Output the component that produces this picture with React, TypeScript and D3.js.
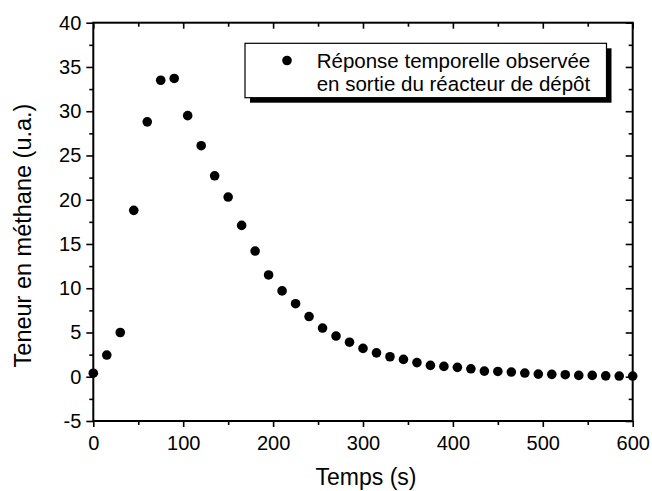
import React, { useEffect, useRef } from "react";
import * as d3 from "d3";

const times: number[] = [
  0, 15, 30, 45, 60, 75, 90, 105, 120, 135, 150, 165, 180, 195, 210, 225, 240,
  255, 270, 285, 300, 315, 330, 345, 360, 375, 390, 405, 420, 435, 450, 465,
  480, 495, 510, 525, 540, 555, 570, 585, 600,
];
const methane: number[] = [
  0.4, 2.45, 5.0, 18.8, 28.8, 33.5, 33.7, 29.5, 26.1, 22.7, 20.3, 17.1, 14.2,
  11.5, 9.7, 8.25, 6.8, 5.5, 4.6, 3.9, 3.2, 2.7, 2.26, 1.96, 1.6, 1.28, 1.17,
  1.06, 0.9, 0.64, 0.6, 0.53, 0.42, 0.3, 0.27, 0.23, 0.15, 0.15, 0.1, 0.08,
  0.08,
];
const xTicks: number[] = [0, 100, 200, 300, 400, 500, 600];
const xMinorTicks: number[] = [50, 150, 250, 350, 450, 550];
const yTicks: number[] = [-5, 0, 5, 10, 15, 20, 25, 30, 35, 40];
const yMinorTicks: number[] = [-2.5, 2.5, 7.5, 12.5, 17.5, 22.5, 27.5, 32.5, 37.5];
const xLabel = "Temps (s)";
const yLabel = "Teneur en méthane (u.a.)";
const legendLines: string[] = [
  "Réponse temporelle observée",
  "en sortie du réacteur de dépôt",
];

const W = 652;
const H = 491;
const FONT = "'Liberation Sans', Arial, Helvetica, sans-serif";
const fmt = (d: any) => String(d);

export default function App() {
  const ref = useRef<SVGSVGElement | null>(null);

  useEffect(() => {
    const svg = d3.select(ref.current);
    svg.selectAll("*").remove();

    const x = d3.scaleLinear().domain([0, 600]).range([93.3, 632.7]);
    const y = d3.scaleLinear().domain([-5, 40]).range([421, 22.7]);
    const [x0, x1] = x.range();
    const [y0, y1] = y.range();

    svg.append("rect").attr("width", W).attr("height", H).attr("fill", "#fff");

    const styleAxis = (g: any) => {
      g.select(".domain").remove();
      g.selectAll(".tick line").attr("stroke", "#000").attr("stroke-width", 1.6);
      g.selectAll(".tick text")
        .attr("fill", "#000")
        .style("font-family", FONT)
        .style("font-size", "20px");
    };

    // Bottom axis
    const gB = svg.append("g").attr("transform", `translate(0,${y0})`);
    gB.call(d3.axisBottom(x).tickValues(xTicks).tickSize(6).tickPadding(9).tickFormat(fmt));
    styleAxis(gB);
    const gBm = svg.append("g").attr("transform", `translate(0,${y0})`);
    gBm.call(d3.axisBottom(x).tickValues(xMinorTicks).tickSize(4).tickFormat(() => ""));
    styleAxis(gBm);

    // Top axis (ticks inward)
    const gT = svg.append("g").attr("transform", `translate(0,${y1})`);
    gT.call(d3.axisTop(x).tickValues(xTicks).tickSize(-6).tickFormat(() => ""));
    styleAxis(gT);
    const gTm = svg.append("g").attr("transform", `translate(0,${y1})`);
    gTm.call(d3.axisTop(x).tickValues(xMinorTicks).tickSize(-4).tickFormat(() => ""));
    styleAxis(gTm);

    // Left axis
    const gL = svg.append("g").attr("transform", `translate(${x0},0)`);
    gL.call(d3.axisLeft(y).tickValues(yTicks).tickSize(7).tickPadding(5).tickFormat(fmt));
    styleAxis(gL);
    const gLm = svg.append("g").attr("transform", `translate(${x0},0)`);
    gLm.call(d3.axisLeft(y).tickValues(yMinorTicks).tickSize(4).tickFormat(() => ""));
    styleAxis(gLm);

    // Right axis (ticks inward)
    const gR = svg.append("g").attr("transform", `translate(${x1},0)`);
    gR.call(d3.axisRight(y).tickValues(yTicks).tickSize(-7).tickFormat(() => ""));
    styleAxis(gR);
    const gRm = svg.append("g").attr("transform", `translate(${x1},0)`);
    gRm.call(d3.axisRight(y).tickValues(yMinorTicks).tickSize(-4).tickFormat(() => ""));
    styleAxis(gRm);

    // Frame
    svg
      .append("rect")
      .attr("x", x0)
      .attr("y", y1)
      .attr("width", x1 - x0)
      .attr("height", y0 - y1)
      .attr("fill", "none")
      .attr("stroke", "#000")
      .attr("stroke-width", 2);

    // Data points
    svg
      .append("g")
      .selectAll("circle")
      .data(times.map((t, i) => ({ t, v: methane[i] })))
      .join("circle")
      .attr("cx", (d) => x(d.t))
      .attr("cy", (d) => y(d.v))
      .attr("r", 4.8)
      .attr("fill", "#000");

    // Axis titles
    svg
      .append("text")
      .attr("x", (x0 + x1) / 2 + 3)
      .attr("y", 485)
      .attr("text-anchor", "middle")
      .style("font-family", FONT)
      .style("font-size", "23px")
      .attr("fill", "#000")
      .text(xLabel);

    svg
      .append("text")
      .attr("transform", `translate(31,${(101 + 370) / 2}) rotate(-90)`)
      .attr("text-anchor", "middle")
      .style("font-family", FONT)
      .style("font-size", "23.5px")
      .attr("fill", "#000")
      .text(yLabel);

    // Legend
    const lg = { x: 245, y: 43.3, w: 361.5, h: 54.4 };
    svg
      .append("rect")
      .attr("x", lg.x + 5)
      .attr("y", lg.y + 5)
      .attr("width", lg.w)
      .attr("height", lg.h)
      .attr("fill", "#000");
    svg
      .append("rect")
      .attr("x", lg.x)
      .attr("y", lg.y)
      .attr("width", lg.w)
      .attr("height", lg.h)
      .attr("fill", "#fff")
      .attr("stroke", "#000")
      .attr("stroke-width", 1.2);
    svg
      .append("circle")
      .attr("cx", 287)
      .attr("cy", 60.5)
      .attr("r", 4.8)
      .attr("fill", "#000");
    svg
      .append("g")
      .selectAll("text")
      .data(legendLines)
      .join("text")
      .attr("x", 316.7)
      .attr("y", (_d, i) => 67.8 + i * 23.6)
      .style("font-family", FONT)
      .style("font-size", "20.5px")
      .attr("fill", "#000")
      .text((d) => d);
  }, []);

  return (
    <div style={{ position: "fixed", left: 0, top: 0, width: W, height: H }}>
      <svg ref={ref} width={W} height={H} style={{ display: "block" }} />
    </div>
  );
}
